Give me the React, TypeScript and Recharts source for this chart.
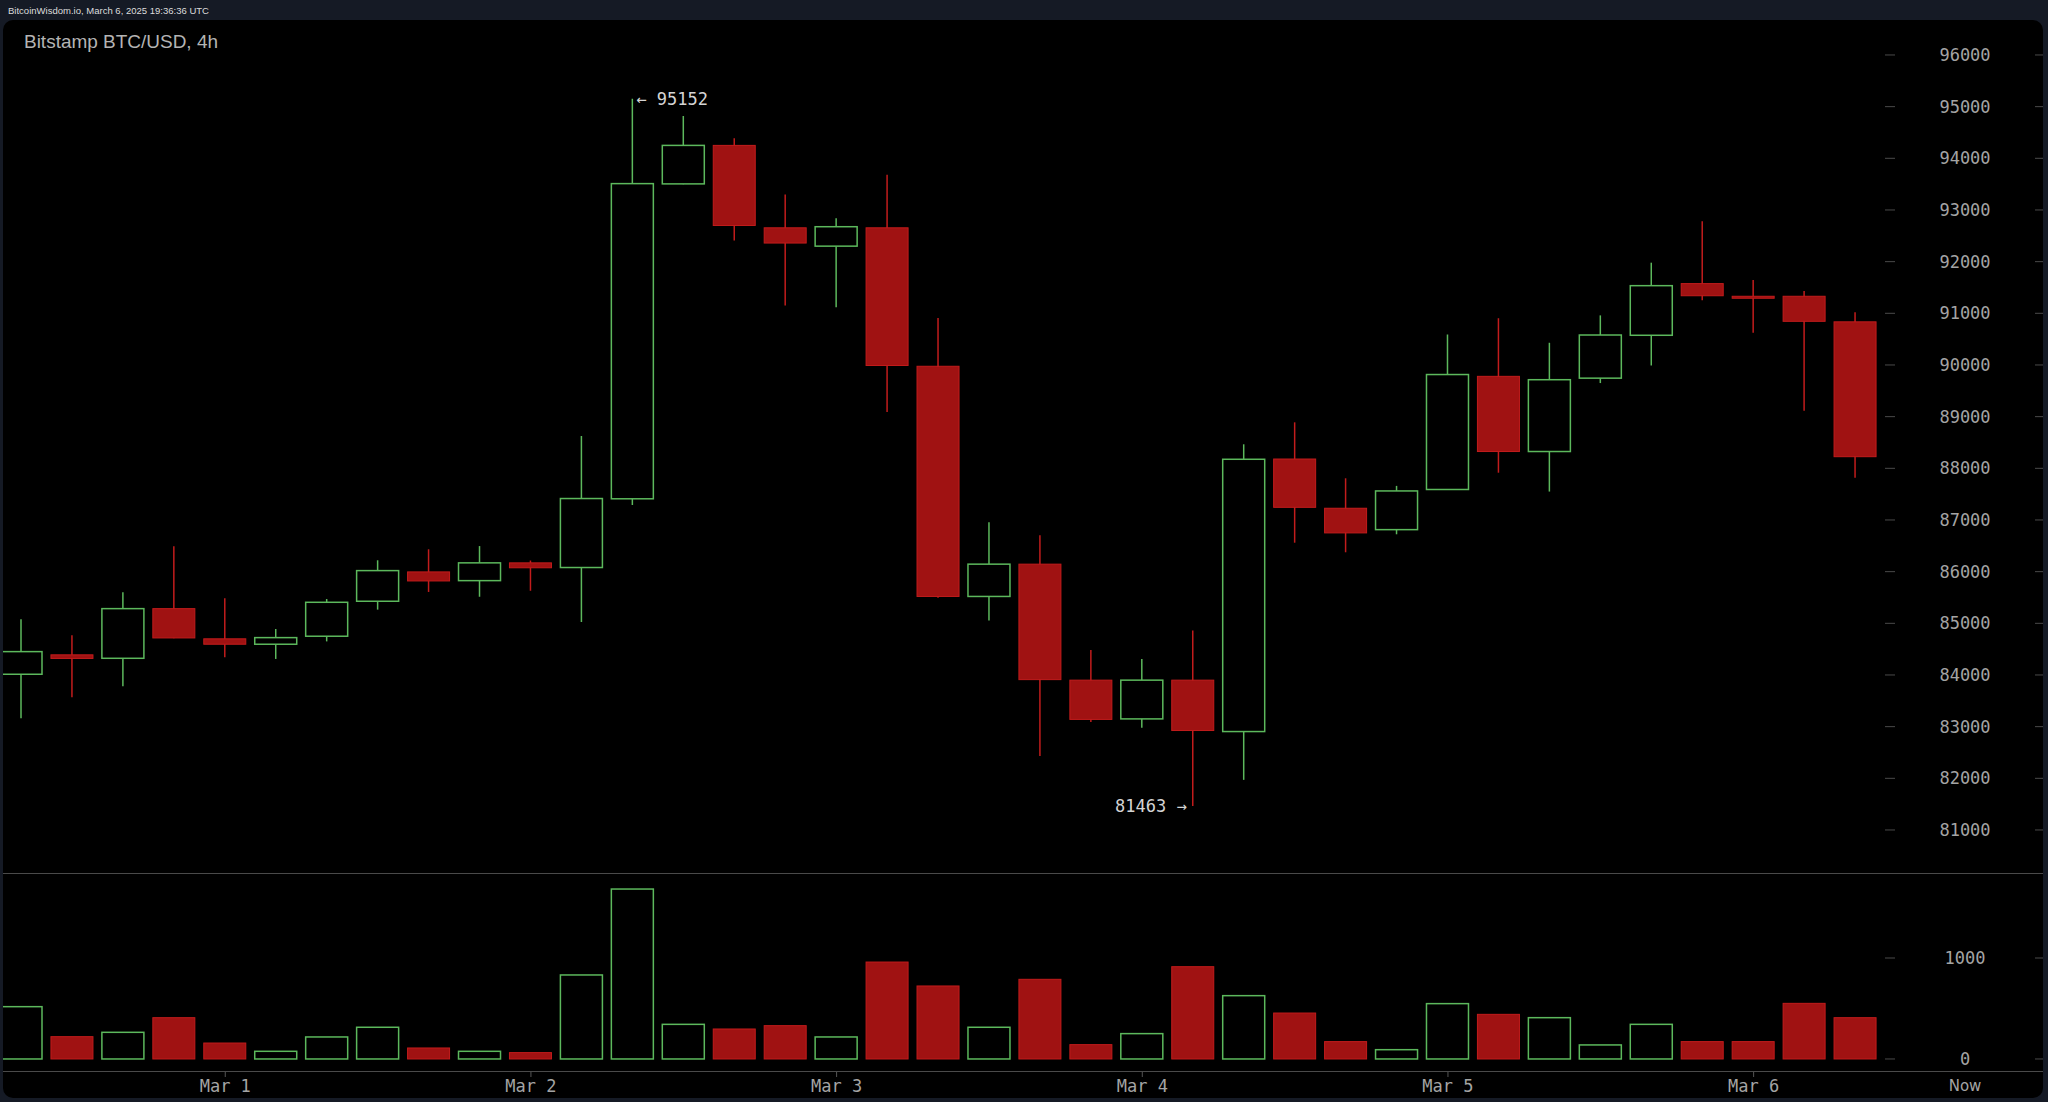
import React from 'react';
import { ComposedChart, BarChart, Bar, XAxis, YAxis, Cell } from 'recharts';

// 4h candles, Feb 28 08:00 .. Mar 6 08:00 (Bitstamp BTC/USD)
const opens = [
  84014, 84390, 84323, 85284, 84700, 84595, 84750, 85427, 85995, 85826,
  86170, 86080, 87410, 93505, 94250, 92655, 92300, 92655, 89975, 85520,
  86145, 83900, 83150, 83900, 82905, 88180, 87227, 86813, 87590, 89780,
  88325, 89745, 90575, 91575, 91330, 91330, 90835,
];
const highs = [
  85079, 84770, 85600, 86490, 85485, 84890, 85470, 86220, 86433, 86495,
  86215, 88625, 95152, 94820, 94390, 93300, 92840, 93680, 90910, 86955,
  86705, 84485, 84310, 84860, 88465, 88890, 87807, 87660, 90590, 90905,
  90430, 90960, 91980, 92780, 91645, 91430, 91020,
];
const lows = [
  83163, 83570, 83780, 84710, 84345, 84310, 84650, 85265, 85607, 85514,
  85630, 85025, 87290, 93500, 92410, 91150, 91115, 89090, 85495, 85055,
  82430, 83090, 82980, 81463, 81970, 86560, 86375, 86723, 87580, 87915,
  87550, 89650, 89990, 91255, 90625, 89115, 87815,
];
const closes = [
  84452, 84320, 85284, 84717, 84595, 84723, 85407, 86020, 85820, 86170,
  86075, 87415, 93510, 94250, 92700, 92360, 92676, 89990, 85520, 86145,
  83910, 83140, 83900, 82925, 88175, 87245, 86750, 87562, 89815, 88325,
  89715, 90580, 91535, 91340, 91305, 90845, 88225,
];
const volumes = [
  518, 221, 264, 409, 158, 76, 218, 314, 109, 76,
  63, 832, 1683, 343, 297, 330, 218, 960, 723, 314,
  789, 142, 251, 914, 627, 455, 172, 92, 548, 442,
  409, 139, 343, 172, 172, 551, 409,
];
const dayTickIndex = [4, 10, 16, 22, 28, 34];
const dayTickLabel = ['Mar 1', 'Mar 2', 'Mar 3', 'Mar 4', 'Mar 5', 'Mar 6'];
const priceTicks = [81000, 82000, 83000, 84000, 85000, 86000, 87000, 88000, 89000, 90000, 91000, 92000, 93000, 94000, 95000, 96000];
const volumeTicks = [0, 1000];

const data = opens.map((open, i) => ({
  i,
  open,
  high: highs[i],
  low: lows[i],
  close: closes[i],
  vol: volumes[i],
}));

const maxHigh = Math.max(...highs);
const minLow = Math.min(...lows);

const GREEN = '#5cb85c';
const RED_FILL = '#a01212';
const RED_LINE = '#c21c1c';
const MONO = '"DejaVu Sans Mono", monospace';

const Candle = (props: any) => {
  const { x, y, width, height, payload } = props;
  const { open, close, high, low } = payload;
  const top = Math.min(y, y + height);
  const h = Math.abs(height);
  const k = high === low ? 0 : h / (high - low);
  const py = (p: number) => top + (high - p) * k;
  const cx = x + width / 2;
  const up = close >= open;
  const bTop = py(Math.max(open, close));
  let bBot = py(Math.min(open, close));
  if (bBot - bTop < 2) bBot = bTop + 2;
  const yHigh = py(high);
  const yLow = py(low);

  return (
    <g>
      {up ? (
        <>
          <line x1={cx} x2={cx} y1={yHigh} y2={bTop} stroke={GREEN} strokeWidth={1.5} />
          <line x1={cx} x2={cx} y1={bBot} y2={yLow} stroke={GREEN} strokeWidth={1.5} />
          <rect x={x} y={bTop} width={width} height={bBot - bTop} fill="#000" stroke={GREEN} strokeWidth={1.5} />
        </>
      ) : (
        <>
          <line x1={cx} x2={cx} y1={yHigh} y2={yLow} stroke={RED_LINE} strokeWidth={1.5} />
          <rect x={x} y={bTop} width={width} height={bBot - bTop} fill={RED_FILL} stroke={RED_LINE} strokeWidth={1} />
        </>
      )}
      {high === maxHigh && (
        <text x={cx + 4} y={yHigh} dominantBaseline="central" fill="#d4d4d4" fontFamily={MONO} fontSize={17}>
          {'← ' + high}
        </text>
      )}
      {low === minLow && (
        <text x={cx - 6} y={yLow} dominantBaseline="central" textAnchor="end" fill="#d4d4d4" fontFamily={MONO} fontSize={17}>
          {low + ' →'}
        </text>
      )}
    </g>
  );
};

const VolumeBar = (props: any) => {
  const { x, y, width, height, payload } = props;
  const up = payload.close >= payload.open;
  const top = Math.min(y, y + height);
  const h = Math.abs(height);
  return up ? (
    <rect x={x} y={top} width={width} height={h} fill="#000" stroke={GREEN} strokeWidth={1.5} />
  ) : (
    <rect x={x} y={top} width={width} height={h} fill={RED_FILL} stroke={RED_LINE} strokeWidth={1} />
  );
};

const AxisTick = (props: any) => {
  const { x, y, payload } = props;
  return (
    <g>
      <line x1={x + 4} x2={x + 14} y1={y} y2={y} stroke="#4a4a4a" />
      <text x={x + 84} y={y} textAnchor="middle" dominantBaseline="central" fill="#a4a4a4" fontFamily={MONO} fontSize={17}>
        {payload.value}
      </text>
      <line x1={x + 154} x2={x + 162} y1={y} y2={y} stroke="#4a4a4a" />
    </g>
  );
};

const DayTick = (props: any) => {
  const { x, y, payload } = props;
  const k = dayTickIndex.indexOf(payload.value);
  if (k < 0) return <g />;
  return (
    <g>
      <line x1={x} x2={x} y1={y} y2={y + 5} stroke="#555" />
      <text x={x} y={y + 14} textAnchor="middle" dominantBaseline="central" fill="#a4a4a4" fontFamily={MONO} fontSize={17}>
        {dayTickLabel[k]}
      </text>
    </g>
  );
};

const chartMargin = { top: 0, right: 4, bottom: 0, left: -4 };

export default function App() {
  return (
    <div style={{ position: 'relative', width: 2048, height: 1102, background: '#151a25', overflow: 'hidden' }}>
      <style>{'body{margin:0;background:#151a25}'}</style>
      <div
        style={{
          position: 'absolute',
          left: 3,
          top: 20,
          width: 2040,
          height: 1078,
          background: '#000',
          borderRadius: 10,
          overflow: 'hidden',
        }}
      >
        <div style={{ position: 'absolute', left: -3, top: 0 }}>
          <ComposedChart width={2048} height={854} data={data} margin={chartMargin}>
            <XAxis dataKey="i" type="category" hide />
            <YAxis
              orientation="right"
              width={163}
              type="number"
              domain={[80148, 96677]}
              allowDataOverflow
              ticks={priceTicks}
              interval={0}
              axisLine={false}
              tickLine={false}
              tickSize={0}
              tickMargin={0}
              tick={<AxisTick />}
            />
            <Bar
              dataKey={(d: any) => [d.low, d.high]}
              barSize={42}
              shape={<Candle />}
              isAnimationActive={false}
            />
          </ComposedChart>
        </div>
        <div style={{ position: 'absolute', left: -3, top: 854 }}>
          <BarChart width={2048} height={228} data={data} margin={chartMargin}>
            <XAxis
              dataKey="i"
              type="category"
              height={30}
              interval={0}
              axisLine={false}
              tickLine={false}
              tickSize={0}
              tickMargin={0}
              tick={<DayTick />}
            />
            <YAxis
              orientation="right"
              width={163}
              type="number"
              domain={[-129, 1832]}
              allowDataOverflow
              ticks={volumeTicks}
              interval={0}
              axisLine={false}
              tickLine={false}
              tickSize={0}
              tickMargin={0}
              tick={<AxisTick />}
            />
            <Bar dataKey="vol" barSize={42} shape={<VolumeBar />} isAnimationActive={false}>
              {data.map((d) => (
                <Cell key={d.i} />
              ))}
            </Bar>
          </BarChart>
        </div>
        <div style={{ position: 'absolute', left: 0, top: 853, width: 2040, height: 1, background: '#4a4a4a' }} />
        <div style={{ position: 'absolute', left: 0, top: 1051, width: 2040, height: 1, background: '#4a4a4a' }} />
      </div>
      <svg width={2048} height={1102} style={{ position: 'absolute', left: 0, top: 0, pointerEvents: 'none' }}>
        <text
          x={8}
          y={10.5}
          dominantBaseline="central"
          fill="#dcdcdc"
          fontFamily='"Liberation Sans", Arial, sans-serif'
          fontSize={9.5}
          textLength={201}
          lengthAdjust="spacingAndGlyphs"
        >
          BitcoinWisdom.io, March 6, 2025 19:36:36 UTC
        </text>
        <text
          x={24}
          y={48}
          fill="#b4b4b4"
          fontFamily='"Liberation Sans", Arial, sans-serif'
          fontSize={19}
          textLength={194}
          lengthAdjust="spacingAndGlyphs"
        >
          Bitstamp BTC/USD, 4h
        </text>
        <text x={1965} y={1086} textAnchor="middle" dominantBaseline="central" fill="#a4a4a4" fontFamily='"DejaVu Sans", sans-serif' fontSize={15}>
          Now
        </text>
      </svg>
    </div>
  );
}
